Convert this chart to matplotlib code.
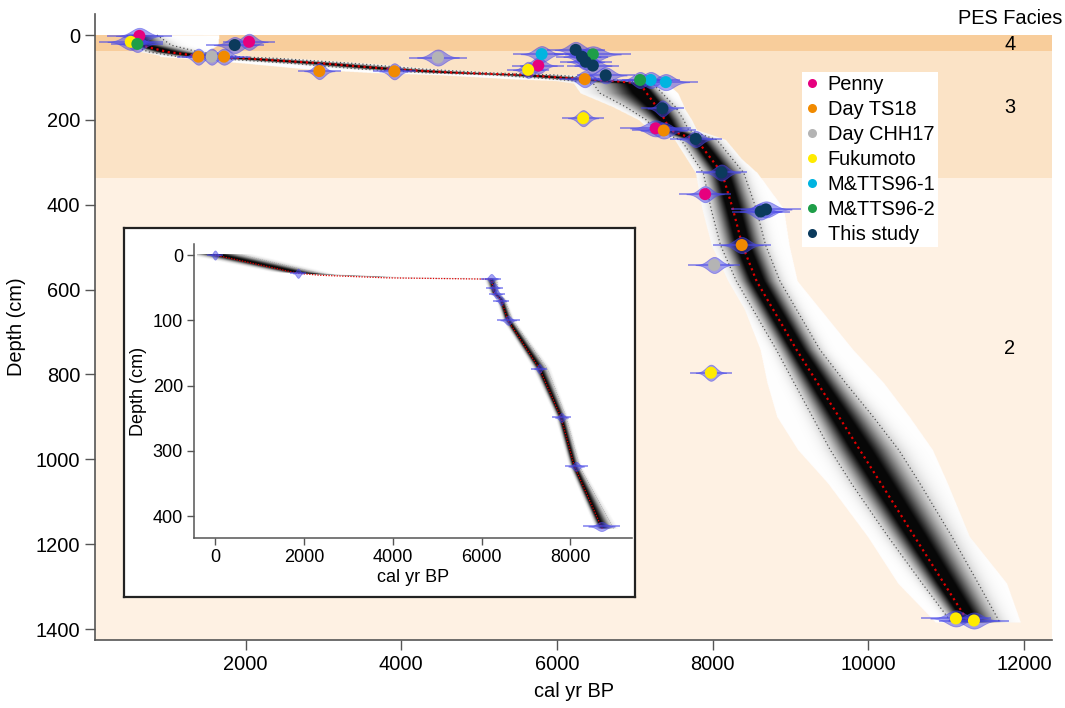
import numpy as np
import matplotlib
matplotlib.use('Agg')
import matplotlib.pyplot as plt
from matplotlib.lines import Line2D

plt.rcParams['font.family'] = ['Liberation Sans', 'DejaVu Sans']

# ---------------- data ----------------
series_names = ['Penny', 'Day TS18', 'Day CHH17', 'Fukumoto', 'M&TTS96-1', 'M&TTS96-2', 'This study']
series_colors = ['#E6007E', '#F18A00', '#B4B4B4', '#FFEB00', '#00B4E0', '#1E9E48', '#0B3A5C']

penny_age = [635, 2044, 5760, 7268, 7903]
penny_depth = [2, 16, 72, 220, 375]
penny_sd = [100, 80, 80, 110, 80]

ts18_age = [1393, 1723, 2947, 3911, 6357, 7372, 8374]
ts18_depth = [51, 51, 85, 85.5, 104, 225, 495]
ts18_sd = [65, 80, 65, 65, 80, 100, 90]

chh17_age = [1564, 4471, 8020]
chh17_depth = [51, 53, 542]
chh17_sd = [65, 90, 80]

fuku_age = [524, 5630, 6337, 7978, 11125, 11357]
fuku_depth = [16, 82, 196, 796, 1375, 1380]
fuku_sd = [100, 65, 65, 65, 110, 110]

mtts1_age = [5803, 7204, 7398]
mtts1_depth = [45, 106, 111]
mtts1_sd = [90, 90, 100]

mtts2_age = [609, 6461, 7068]
mtts2_depth = [21, 45.5, 106]
mtts2_sd = [80, 120, 80]

study_age = [1860, 6240, 6321, 6369, 6461, 6626, 7355, 7783, 8114, 8617, 8685]
study_depth = [23.6, 35, 51, 63, 72, 95, 173, 245, 324, 416, 411]
study_sd = [90, 90, 80, 80, 80, 90, 65, 80, 80, 90, 110]

# main age-depth model (median, 1-sigma spreads, white envelope)
model_depth = [0, 24, 40, 47, 51, 55, 67, 80, 89, 94, 104, 108, 114, 137, 169, 200, 224, 236, 247,
               325, 410, 495, 580, 742, 820, 900, 978, 1057, 1183, 1293, 1385]
model_age = [560, 645, 1000, 1290, 1500, 2000, 3000, 3855, 4711, 5565, 6335, 6700, 7066, 7152, 7280,
             7387, 7451, 7620, 7794, 8120, 8260, 8380, 8565, 9079, 9347, 9623, 9891, 10163,
             10596, 10974, 11291]
model_sig_lo = [40, 60, 120, 150, 180, 200, 200, 200, 200, 200, 180, 250, 300, 300, 200, 120, 90, 100, 100,
                120, 140, 140, 130, 130, 150, 170, 190, 190, 170, 140, 110]
model_sig_hi = [150, 200, 200, 200, 200, 200, 200, 200, 200, 200, 140, 80, 80, 100, 120, 120, 120, 130, 130,
                140, 150, 150, 150, 150, 180, 220, 250, 250, 240, 220, 200]
model_halo_lo = [60, 80, 200, 400, 600, 800, 1000, 1100, 1100, 1100, 900, 700, 650, 650, 400, 250, 200, 250, 250,
                 280, 300, 320, 300, 470, 650, 800, 800, 686, 607, 597, 430]
model_halo_hi = [1100, 1000, 500, 350, 250, 250, 250, 250, 250, 250, 250, 250, 350, 400, 350, 300, 300, 300, 300,
                 450, 650, 600, 520, 720, 845, 900, 930, 850, 700, 800, 660]

# facies bands
facies_top = [0, 37, 336]
facies_bottom = [37, 336, 1430]
facies_labels = ['4', '3', '2']
facies_label_depth = [23, 172, 740]
facies_colors = ['#F8CD9B', '#FBE3C6', '#FEF1E3']

# inset model ("This study")
inset_depth = [0, 28, 31, 35, 37, 59, 69, 100, 174, 249, 324, 420]
inset_age = [0, 1860, 2360, 3870, 6220, 6292, 6442, 6592, 7303, 7790, 8090, 8720]
inset_sig_lo = [250, 200, 100, 100, 60, 40, 40, 45, 55, 45, 45, 55]
inset_sig_hi = [300, 250, 120, 120, 60, 45, 45, 55, 90, 60, 60, 130]
inset_date_age = [0, 1870, 6220, 6290, 6340, 6440, 6600, 7300, 7800, 8130, 8700]
inset_date_depth = [0, 28, 36, 50, 60, 70, 100, 174, 249, 324, 416]
inset_date_sd = [40, 40, 50, 40, 40, 40, 60, 40, 50, 60, 100]

main_xticks = [2000, 4000, 6000, 8000, 10000, 12000]
main_yticks = [0, 200, 400, 600, 800, 1000, 1200, 1400]
inset_xticks = [0, 2000, 4000, 6000, 8000]
inset_yticks = [0, 100, 200, 300, 400]


# ---------------- helpers ----------------
def density_image(ax, dn, an, sl, sh, hl, hh, arange, drange, nx, ny, zorder, gain=1.15):
    D = np.linspace(drange[0], drange[1], ny)
    A = np.linspace(arange[0], arange[1], nx)
    m = np.interp(D, dn, an)
    s_lo = np.interp(D, dn, sl)
    s_hi = np.interp(D, dn, sh)
    h_lo = np.interp(D, dn, hl)
    h_hi = np.interp(D, dn, hh)
    X = A[None, :] - m[:, None]
    S = np.where(X < 0, s_lo[:, None], s_hi[:, None])
    dark = np.clip(gain * np.exp(-0.5 * (X / S) ** 2), 0, 0.97)
    halo = (X >= -h_lo[:, None]) & (X <= h_hi[:, None])
    inside = ((D >= dn[0]) & (D <= dn[-1]))[:, None]
    alpha = np.where(halo | (dark > 0.02), 1.0, 0.0) * inside
    rgba = np.empty((ny, nx, 4), dtype=np.float32)
    g = 1.0 - dark
    rgba[..., 0] = g
    rgba[..., 1] = g
    rgba[..., 2] = g
    rgba[..., 3] = alpha
    ax.imshow(rgba, extent=(A[0], A[-1], D[-1], D[0]), origin='upper',
              aspect='auto', zorder=zorder)


def date_violin(ax, age, depth, sd, h, zorder, color='#4848E8'):
    x = np.linspace(age - 3.0 * sd, age + 3.0 * sd, 80)
    half = h * np.exp(-0.5 * ((x - age) / sd) ** 2)
    ax.fill_between(x, depth - half, depth + half, color=color, alpha=0.5,
                    lw=0.6, zorder=zorder)
    ax.plot([age - 4.0 * sd, age + 4.0 * sd], [depth, depth], color=color,
            alpha=0.55, lw=1.4, zorder=zorder)


# ---------------- figure ----------------
fig = plt.figure(figsize=(10.65, 7.08), dpi=100)
ax = fig.add_axes([0.0892, 0.0960, 0.8986, 0.8842])

for t, b, c in zip(facies_top, facies_bottom, facies_colors):
    ax.axhspan(t, b, color=c, lw=0, zorder=0)

density_image(ax, np.array(model_depth, float), np.array(model_age, float),
              np.array(model_sig_lo, float), np.array(model_sig_hi, float),
              np.array(model_halo_lo, float), np.array(model_halo_hi, float),
              (0, 12400), (-5, 1395), 1800, 2400, 1)

ma = np.array(model_age, float)
md = np.array(model_depth, float)
ax.plot(ma - 2 * np.array(model_sig_lo), md, ls=(0, (1, 2)), color='#555555', lw=0.9, zorder=2)
ax.plot(ma + 2 * np.array(model_sig_hi), md, ls=(0, (1, 2)), color='#555555', lw=0.9, zorder=2)
ax.plot(ma, md, ls=(0, (1, 1.6)), color='#E00000', lw=1.6, zorder=3)

series = [
    (penny_age, penny_depth, penny_sd),
    (ts18_age, ts18_depth, ts18_sd),
    (chh17_age, chh17_depth, chh17_sd),
    (fuku_age, fuku_depth, fuku_sd),
    (mtts1_age, mtts1_depth, mtts1_sd),
    (mtts2_age, mtts2_depth, mtts2_sd),
    (study_age, study_depth, study_sd),
]
for (ages, depths, sds) in series:
    for a, d, s in zip(ages, depths, sds):
        date_violin(ax, a, d, s, 19, 4)
for (ages, depths, sds), col in zip(series, series_colors):
    ax.scatter(ages, depths, s=75, color=col, edgecolors='none', zorder=5)

ax.set_xlim(65, 12360)
ax.set_ylim(1426, -49.5)
ax.set_xticks(main_xticks)
ax.set_yticks(main_yticks)
for sp in ['top', 'right']:
    ax.spines[sp].set_visible(False)
for sp in ['left', 'bottom']:
    ax.spines[sp].set_color('#555555')
    ax.spines[sp].set_linewidth(1.2)
ax.tick_params(length=7, width=1.0, color='#555555', labelsize=14.4, pad=3.5)
ax.set_xlabel('cal yr BP', fontsize=14.4, labelpad=6)
ax.set_ylabel('Depth (cm)', fontsize=14.4, labelpad=7)

ax.text(11820, -40, 'PES Facies', ha='center', va='center', fontsize=14.4, zorder=6)
for lab, dep in zip(facies_labels, facies_label_depth):
    ax.text(11820, dep, lab, ha='center', va='center', fontsize=14.4, zorder=6)

handles = [Line2D([], [], marker='o', ls='none', markersize=6.5, color=c, markeredgewidth=0)
           for c in series_colors]
leg = ax.legend(handles, series_names, loc='upper left',
                bbox_to_anchor=(801.7 / 1065, 1 - 71.7 / 708), bbox_transform=fig.transFigure,
                borderaxespad=0, frameon=True, fancybox=False, framealpha=1,
                facecolor='white', edgecolor='none', fontsize=14.4,
                handlelength=0.75, handletextpad=0.4, labelspacing=0.3, borderpad=0.15)
leg.set_zorder(7)

# ---------------- inset ----------------
frame = fig.add_axes([124 / 1065, 1 - 597 / 708, (635 - 124) / 1065, (597 - 228) / 708], zorder=10)
frame.set_xticks([])
frame.set_yticks([])
frame.set_facecolor('white')
for sp in frame.spines.values():
    sp.set_linewidth(1.6)
    sp.set_color('#222222')

ins = fig.add_axes([194 / 1065, 1 - 538 / 708, (632 - 194) / 1065, (538 - 244) / 708], zorder=11)
ins.patch.set_alpha(0)
zeros = np.zeros(len(inset_depth))
density_image(ins, np.array(inset_depth, float), np.array(inset_age, float),
              np.array(inset_sig_lo, float), np.array(inset_sig_hi, float),
              zeros, zeros, (-400, 9400), (0, 425), 1400, 1400, 1, gain=1.0)
ia = np.array(inset_age, float)
idp = np.array(inset_depth, float)
ins.plot(ia + 2 * np.array(inset_sig_hi), idp, ls=(0, (1, 2)), color='#999999', lw=0.5, zorder=2)
ins.plot(ia, idp, ls=(0, (1, 1.2)), color='#E00000', lw=0.9, zorder=3)
for a, d, s in zip(inset_date_age, inset_date_depth, inset_date_sd):
    date_violin(ins, a, d, s, 7, 4)

ins.set_xlim(-473, 9387)
ins.set_ylim(433.7, -16.9)
ins.set_xticks(inset_xticks)
ins.set_yticks(inset_yticks)
for sp in ['top', 'right']:
    ins.spines[sp].set_visible(False)
for sp in ['left', 'bottom']:
    ins.spines[sp].set_color('#555555')
    ins.spines[sp].set_linewidth(1.1)
ins.tick_params(length=5, width=1.0, color='#555555', labelsize=13, pad=3)
ins.set_xlabel('cal yr BP', fontsize=13, labelpad=2)
ins.set_ylabel('Depth (cm)', fontsize=13, labelpad=4)

fig.savefig('out.png', dpi=100)
